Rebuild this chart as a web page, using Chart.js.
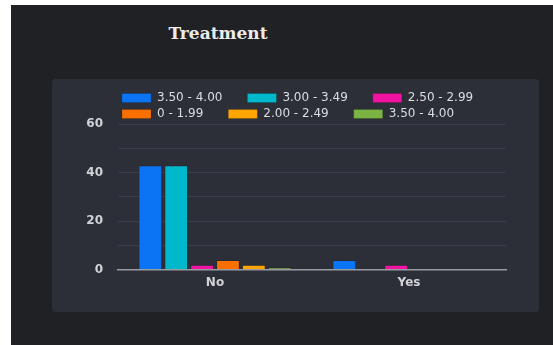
<!DOCTYPE html>
<html lang="en">
<head>
<meta charset="UTF-8">
<title>Treatment</title>
<style>
    html, body { margin: 0; padding: 0; background: #ffffff; }
    .page { position: absolute; left: 11px; top: 5px; right: 0; bottom: 0; background: #202125; overflow: hidden; }
    .title { position: absolute; left: 0; width: 414px; top: 18px; text-align: center;
             font-family: "DejaVu Serif", serif; font-weight: bold; font-size: 17px; color: #ececec; }
    .card { position: absolute; left: 41px; top: 74px; width: 487px; height: 233px; background: #2c2f38; border-radius: 4px; }
    #chartBox { position: absolute; left: 10px; top: 0; width: 454px; height: 229px; }
</style>
</head>
<body>
<div class="page">
    <div class="title">Treatment</div>
    <div class="card">
        <div id="chartBox"><canvas id="treatmentChart"></canvas></div>
    </div>
</div>

<script src="https://cdn.jsdelivr.net/npm/chart.js"></script>
<script>
const categories = ['No', 'Yes'];
const seriesLabels = ['3.50 - 4.00', '3.00 - 3.49', '2.50 - 2.99', '0 - 1.99', '2.00 - 2.49', '3.50 - 4.00'];
const seriesColors = ['#0b74f4', '#00b8cc', '#f012a0', '#f97000', '#ffa500', '#7bb342'];

// counts per category (No, Yes)
const gpa350to400 = [43, 4];
const gpa300to349 = [43, 0];
const gpa250to299 = [2, 2];
const gpa0to199 = [4, 0];
const gpa200to249 = [2, 0];
const gpa350to400b = [1, 0];

const yTicks = [0, 20, 40, 60];

const seriesValues = [gpa350to400, gpa300to349, gpa250to299, gpa0to199, gpa200to249, gpa350to400b];

const datasets = seriesValues.map((vals, i) => ({
    label: seriesLabels[i],
    data: vals,
    backgroundColor: seriesColors[i],
    borderColor: 'rgba(0,0,0,0.12)',
    borderWidth: 1,
    categoryPercentage: 0.8,
    barPercentage: 0.92
}));

const ctx = document.getElementById('treatmentChart').getContext('2d');
new Chart(ctx, {
    type: 'bar',
    data: { labels: categories, datasets: datasets },
    options: {
        responsive: true,
        maintainAspectRatio: false,
        animation: false,
        layout: { padding: { left: 24, right: 10, top: 9, bottom: 12 } },
        plugins: {
            tooltip: { enabled: false },
            legend: {
                position: 'top',
                align: 'start',
                fullSize: false,
                maxHeight: 36,
                labels: {
                    color: '#dcdde0',
                    font: { family: 'DejaVu Sans', size: 12 },
                    boxWidth: 29,
                    boxHeight: 9,
                    padding: 4,
                    // wider gap between items than between rows
                    generateLabels: chart => Chart.defaults.plugins.legend.labels.generateLabels(chart)
                        .map(item => Object.assign(item, { text: item.text + '\u2003\u2002\u2005' }))
                }
            }
        },
        scales: {
            x: {
                grid: { display: false, drawTicks: false },
                border: { color: '#9a9ca3', width: 1.5 },
                ticks: { color: '#d2d3d6', padding: 6, font: { family: 'DejaVu Sans', size: 12, weight: 'bold' } }
            },
            y: {
                min: 0,
                max: 60,
                afterFit: scale => { scale.width = 32; },
                border: { display: false },
                grid: { color: '#3a3e49', drawTicks: false },
                ticks: {
                    stepSize: 10,
                    padding: 15,
                    color: '#d2d3d6',
                    font: { family: 'DejaVu Sans', size: 12, weight: 'bold' },
                    callback: v => yTicks.includes(v) ? v : ''
                }
            }
        }
    }
});
</script>
</body>
</html>
